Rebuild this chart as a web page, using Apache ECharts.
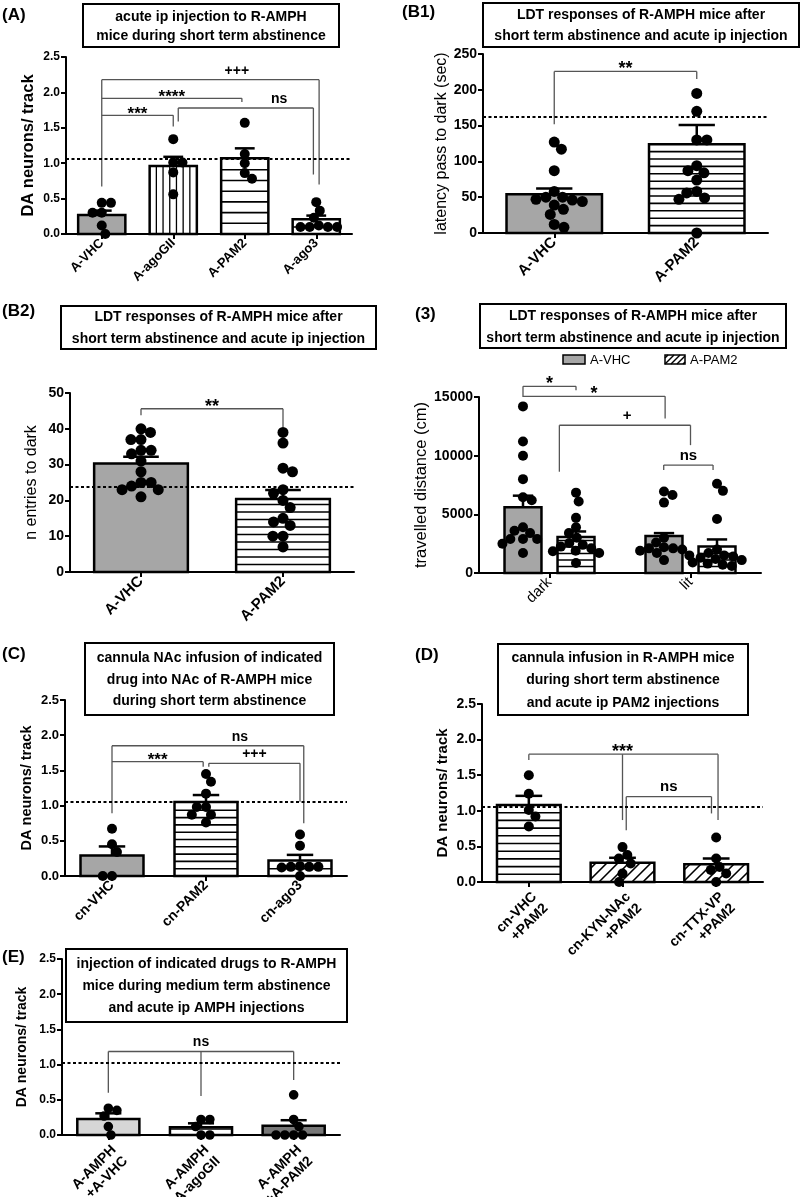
<!DOCTYPE html>
<html><head><meta charset="utf-8">
<script src="https://cdn.jsdelivr.net/npm/echarts@6/dist/echarts.min.js"></script>
<style>html,body{margin:0;padding:0;background:#fff}#c{width:803px;height:1197px}</style>
</head><body><div id="c"></div>
<script>
// ================= DATA =================
// (A)
const catA = ['A-VHC', 'A-agoGII', 'A-PAM2', 'A-ago3'];
const meanA = [0.27, 0.96, 1.07, 0.21];
const semA = [0.06, 0.13, 0.14, 0.05];
const ptsA = [[0.44, 0.44, 0.30, 0.30, 0.12, 0.0], [1.34, 1.01, 1.01, 0.87, 0.56], [1.57, 1.13, 1.00, 0.86, 0.78], [0.45, 0.33, 0.23, 0.12, 0.10, 0.10, 0.10, 0.10]];
const refA = 1.06;
const yTicksA = [0, 0.5, 1.0, 1.5, 2.0, 2.5];
const sigA = [
  { y: 2.18, legs: [[0, 0.67], [3.04, 0.70]], text: '+++', tx: 1.89 },
  { y: 1.916, legs: [[0, 1.916], [1.96, 1.864]], text: '****' },
  { y: 1.676, legs: [[0, 1.676], [1.0, 1.52]], text: '***' },
  { y: 1.78, legs: [[1.07, 1.59], [2.96, 0.84]], text: 'ns', tx: 2.48 }
];
// (B1)
const catB1 = ['A-VHC', 'A-PAM2'];
const meanB1 = [54, 124];
const semB1 = [8, 27];
const ptsB1 = [[127, 117, 87, 58, 50, 50, 47, 46, 44, 39, 33, 26, 12, 8], [195, 170, 130, 130, 94, 87, 84, 74, 58, 56, 49, 47, 0]];
const refB1 = 163;
const yTicksB1 = [0, 50, 100, 150, 200, 250];
const sigB1 = [{ y: 225.7, legs: [[0, 152], [1, 215]], text: '**' }];
// (B2)
const catB2 = ['A-VHC', 'A-PAM2'];
const meanB2 = [30.3, 20.4];
const semB2 = [1.9, 2.5];
const ptsB2 = [[40, 39, 37, 37, 34, 34, 33, 31, 28, 25, 25, 24, 23, 23, 21], [39, 36, 29, 28, 23, 22, 20, 18, 15, 14, 13, 10, 10, 7]];
const refB2 = 23.8;
const yTicksB2 = [0, 10, 20, 30, 40, 50];
const sigB2 = [{ y: 45.6, legs: [[0, 43.8], [1, 40.5]], text: '**' }];
// (3)
const cat3 = ['dark', 'lit'];
const groups3 = ['A-VHC', 'A-PAM2'];
const mean3VHC = [5600, 3150];
const sem3VHC = [990, 250];
const pts3VHC = [[14200, 11200, 10000, 8000, 6450, 6200, 3900, 3600, 3400, 2900, 2900, 2900, 2500, 1700], [6950, 6650, 6000, 3000, 2600, 2200, 2100, 2100, 2000, 1900, 1700, 1500, 1100]];
const mean3PAM2 = [3060, 2260];
const sem3PAM2 = [480, 600];
const pts3PAM2 = [[6850, 6100, 4700, 3900, 3400, 3000, 2550, 2400, 2250, 2100, 1900, 1850, 1700, 850], [7600, 7000, 4600, 2000, 1700, 1500, 1400, 1300, 1200, 1100, 900, 800, 700, 600]];
const yTicks3 = [0, 5000, 10000, 15000];
const sig3 = [
  { y: 15906, legs: [[-0.188, 15000], [0.188, 15566]], text: '*' },
  { y: 15057, legs: [[-0.188, 15057], [0.82, 13160]], text: '*' },
  { y: 12594, legs: [[0.07, 8632], [1.0, 10896]], text: '+', tx: 0.55 },
  { y: 9198, legs: [[0.81, 8774], [1.16, 8774]], text: 'ns' }
];
// (C)
const catC = ['cn-VHC', 'cn-PAM2', 'cn-ago3'];
const meanC = [0.29, 1.05, 0.22];
const semC = [0.13, 0.10, 0.08];
const ptsC = [[0.67, 0.45, 0.34, 0.0, 0.0], [1.45, 1.34, 1.17, 0.98, 0.98, 0.87, 0.87, 0.76], [0.59, 0.43, 0.14, 0.13, 0.13, 0.13, 0.12, 0.0]];
const refC = 1.046;
const yTicksC = [0, 0.5, 1.0, 1.5, 2.0, 2.5];
const sigC = [
  { y: 1.85, legs: [[0, 0.89], [2.04, 0.75]], text: 'ns', tx: 1.36 },
  { y: 1.624, legs: [[0, 1.624], [0.97, 1.553]], text: '***' },
  { y: 1.60, legs: [[1.03, 1.553], [2.0, 1.056]], text: '+++' }
];
// (D)
const catD = ['cn-VHC\n+PAM2', 'cn-KYN-NAc\n+PAM2', 'cn-TTX-VP\n+PAM2'];
const meanD = [1.08, 0.27, 0.25];
const semD = [0.13, 0.07, 0.08];
const ptsD = [[1.50, 1.24, 1.01, 0.92, 0.78], [0.49, 0.38, 0.33, 0.26, 0.12, 0.0], [0.625, 0.33, 0.21, 0.17, 0.12, 0.0]];
const refD = 1.048;
const yTicksD = [0, 0.5, 1.0, 1.5, 2.0, 2.5];
const sigD = [
  { y: 1.795, legs: [[0, 1.715], [1, 0.87], [2.02, 0.87]], text: '***', tx: 1 },
  { y: 1.198, legs: [[1.04, 0.728], [1.95, 0.963]], text: 'ns' }
];
// (E)
const catE = ['A-AMPH\n+A-VHC', 'A-AMPH\n+A-agoGII', 'A-AMPH\n+A-PAM2'];
const meanE = [0.228, 0.11, 0.13];
const semE = [0.08, 0.056, 0.08];
const ptsE = [[0.38, 0.35, 0.27, 0.12, 0.0], [0.22, 0.22, 0.12, 0.0, 0.0], [0.57, 0.22, 0.12, 0.0, 0.0, 0.0, 0.0]];
const refE = 1.034;
const yTicksE = [0, 0.5, 1.0, 1.5, 2.0, 2.5];
const sigE = [{ y: 1.186, legs: [[0, 0.60], [1, 0.555], [2, 0.78]], text: 'ns' }];

// titles & labels (text content)
const titleA = ['acute ip injection to R-AMPH', 'mice during short term abstinence'];
const titleB = ['LDT responses of R-AMPH mice after', 'short term abstinence and acute ip injection'];
const titleC = ['cannula NAc infusion of indicated', 'drug into NAc of R-AMPH mice', 'during short term abstinence'];
const titleD = ['cannula infusion in R-AMPH mice', 'during short term abstinence', 'and acute ip PAM2 injections'];
const titleE = ['injection of indicated drugs to R-AMPH', 'mice during medium term abstinence', 'and acute ip AMPH injections'];

// ================= STYLE / LAYOUT =================
const FONT = "'Liberation Sans', Arial, Helvetica, sans-serif";
const GRAY = '#a6a6a6';
const sGray = { fill: GRAY };
const sH = sp => ({ fill: '#fff', pat: 'h', sp: sp });
const sV = sp => ({ fill: '#fff', pat: 'v', sp: sp, lw: 1.3 });
const sD = sp => ({ fill: '#fff', pat: 'd', sp: sp });

function ln(x1, y1, x2, y2, w, c) {
  return { type: 'line', shape: { x1: x1, y1: y1, x2: x2, y2: y2 }, style: { stroke: c || '#000', lineWidth: w } };
}
function patternLines(st, x0, x1, yT, yB) {
  const out = [];
  const lw = st.lw || 1.6;
  if (st.pat === 'h') { for (let y = yB - st.sp; y > yT + 1.5; y -= st.sp) out.push(ln(x0, y, x1, y, lw)); }
  if (st.pat === 'v') { for (let x = x0 + st.sp; x < x1 - 1; x += st.sp) out.push(ln(x, yT, x, yB, lw)); }
  if (st.pat === 'd') {
    for (let c = x0 + yT + st.sp / 2; c < x1 + yB; c += st.sp) {
      const xa = Math.max(x0, c - yB), xb = Math.min(x1, c - yT);
      if (xb > xa) out.push(ln(xa, c - xa, xb, c - xb, lw));
    }
  }
  return out;
}
function swarm(ys, d) {
  const idx = ys.map((_, i) => i).sort((a, b) => ys[a] - ys[b]);
  const xs = new Array(ys.length); const placed = []; let flip = 1;
  idx.forEach(i => {
    const y = ys[i]; const iv = [];
    placed.forEach(p => { const dy = Math.abs(p.y - y); if (dy < d) { const w = Math.sqrt(d * d - dy * dy); iv.push([p.x - w, p.x + w]); } });
    const cands = [0]; iv.forEach(v => cands.push(v[0], v[1]));
    const ok = c => iv.every(v => c <= v[0] + 1e-6 || c >= v[1] - 1e-6);
    let best = null;
    cands.filter(ok).forEach(c => {
      if (best === null || Math.abs(c) < Math.abs(best) - 1e-6 || (Math.abs(Math.abs(c) - Math.abs(best)) < 1e-6 && c * flip > 0)) best = c;
    });
    if (best !== 0) flip = -flip;
    xs[i] = best; placed.push({ x: best, y: y });
  });
  return xs;
}
function barSeries(g, means, sems, pts, styles, o) {
  return {
    type: 'custom', name: o.name, xAxisIndex: g, yAxisIndex: g, silent: true, clip: false, z: 3,
    data: means.map((m, i) => [i, m]),
    renderItem: function (params, api) {
      const i = params.dataIndex;
      const band = api.size([1, 0])[0];
      const base = api.coord([i, 0]);
      const cx = base[0] + (o.offset || 0) * band;
      const w = o.barFrac * band;
      const x0 = cx - w / 2, x1 = cx + w / 2, yB = base[1];
      const yT = api.coord([i, means[i]])[1];
      const st = styles[i];
      const ch = [];
      ch.push({ type: 'rect', shape: { x: x0, y: yT, width: w, height: yB - yT }, style: { fill: st.fill } });
      patternLines(st, x0, x1, yT, yB).forEach(e => ch.push(e));
      ch.push({ type: 'rect', shape: { x: x0, y: yT, width: w, height: yB - yT }, style: { fill: 'none', stroke: '#000', lineWidth: 2.5 } });
      const yS = api.coord([i, means[i] + sems[i]])[1];
      const cap = w * (o.capFrac || 0.42);
      ch.push(ln(cx, yT, cx, yS, 2.5));
      ch.push(ln(cx - cap / 2, yS, cx + cap / 2, yS, 2.5));
      const r = o.r || 5;
      const ys = pts[i].map(v => api.coord([i, v])[1]);
      const xs = swarm(ys, 2 * r * 0.92);
      ys.forEach((y, k) => ch.push({ type: 'circle', shape: { cx: cx + xs[k], cy: y, r: r }, style: { fill: '#000' } }));
      return { type: 'group', children: ch };
    }
  };
}
function sigSeries(g, brs, fs) {
  return {
    type: 'custom', xAxisIndex: g, yAxisIndex: g, silent: true, clip: false, z: 4,
    data: brs.map(b => [0, b.y]),
    renderItem: function (params, api) {
      const b = brs[params.dataIndex];
      const band = api.size([1, 0])[0];
      const X = x => { const r = Math.round(x); return api.coord([r, 0])[0] + (x - r) * band; };
      const Y = v => api.coord([0, v])[1];
      const yh = Y(b.y);
      const xs = b.legs.map(l => X(l[0]));
      const xmin = Math.min.apply(null, xs), xmax = Math.max.apply(null, xs);
      const ch = [ln(xmin, yh, xmax, yh, 1.3, '#555')];
      b.legs.forEach((l, k) => ch.push(ln(xs[k], yh, xs[k], Y(l[1]), 1.3, '#555')));
      const tx = b.tx != null ? X(b.tx) : (xmin + xmax) / 2;
      const star = b.text.indexOf('*') >= 0;
      const size = star ? fs + 3 : fs;
      ch.push({
        type: 'text', x: tx, y: yh + (star ? 7 : -2),
        style: { text: b.text, font: 'bold ' + size + 'px ' + FONT, fill: '#000', textAlign: 'center', textVerticalAlign: 'bottom', align: 'center', verticalAlign: 'bottom' }
      });
      return { type: 'group', children: ch };
    }
  };
}
function refSeries(g, cats, val) {
  return {
    type: 'line', xAxisIndex: g, yAxisIndex: g, data: cats.map(() => null), silent: true, symbol: 'none', z: 2,
    markLine: { silent: true, symbol: ['none', 'none'], label: { show: false }, lineStyle: { color: '#000', width: 1.8, type: [3, 2.5] }, data: [{ yAxis: val }] }
  };
}

const grids = [
  { left: 66, top: 57, width: 286, height: 177 },
  { left: 483, top: 54, width: 285, height: 179 },
  { left: 70, top: 393, width: 284, height: 179 },
  { left: 479, top: 397, width: 282, height: 176 },
  { left: 65, top: 700, width: 282, height: 176 },
  { left: 482, top: 704, width: 281, height: 178 },
  { left: 62, top: 959, width: 278, height: 176 }
].map(g => Object.assign(g, { containLabel: false, outerBoundsMode: 'none' }));
const axisDefs = [
  { cats: catA, ticks: yTicksA, dec: 1, tfs: 12, xfs: 13, xb: 'bold', va: 'middle', name: 'DA neurons/ track', nfs: 16.5, nb: 'bold', gap: 29 },
  { cats: catB1, ticks: yTicksB1, dec: 0, tfs: 14, xfs: 15, xb: 'bold', va: 'middle', name: 'latency pass to dark (sec)', nfs: 16, nb: 'normal', gap: 27 },
  { cats: catB2, ticks: yTicksB2, dec: 0, tfs: 14, xfs: 15, xb: 'bold', va: 'middle', name: 'n entries to dark', nfs: 16, nb: 'normal', gap: 30 },
  { cats: cat3, ticks: yTicks3, dec: 0, tfs: 14, xfs: 15, xb: 'normal', va: 'middle', name: 'travelled distance (cm)', nfs: 16.5, nb: 'normal', gap: 45 },
  { cats: catC, ticks: yTicksC, dec: 1, tfs: 13, xfs: 14, xb: 'bold', va: 'middle', name: 'DA neurons/ track', nfs: 14.5, nb: 'bold', gap: 31 },
  { cats: catD, ticks: yTicksD, dec: 1, tfs: 14, xfs: 14, xb: 'bold', va: 'top', name: 'DA neurons/ track', nfs: 15, nb: 'bold', gap: 32 },
  { cats: catE, ticks: yTicksE, dec: 1, tfs: 12, xfs: 14, xb: 'bold', va: 'top', name: 'DA neurons/ track', nfs: 14, nb: 'bold', gap: 33 }
];
const xAxes = axisDefs.map((a, g) => ({
  gridIndex: g, type: 'category', data: a.cats,
  axisLine: { show: true, lineStyle: { color: '#000', width: 2 } },
  axisTick: { show: true, alignWithLabel: true, length: 5, lineStyle: { color: '#000', width: 2 } },
  axisLabel: { interval: 0, rotate: 45, margin: 7, color: '#000', fontSize: a.xfs, fontWeight: a.xb, fontFamily: FONT, lineHeight: a.xfs + 2, verticalAlign: a.va },
  splitLine: { show: false }
}));
const yAxes = axisDefs.map((a, g) => ({
  gridIndex: g, type: 'value', min: a.ticks[0], max: a.ticks[a.ticks.length - 1], interval: a.ticks[1] - a.ticks[0],
  axisLine: { show: true, lineStyle: { color: '#000', width: 2 } },
  axisTick: { show: true, length: 5, lineStyle: { color: '#000', width: 2 } },
  axisLabel: { margin: 6, color: '#000', fontSize: a.tfs, fontWeight: 'bold', fontFamily: FONT, formatter: v => v.toFixed(a.dec) },
  splitLine: { show: false },
  name: a.name, nameLocation: 'middle', nameGap: a.gap, nameRotate: 90,
  nameTextStyle: { color: '#000', fontSize: a.nfs, fontWeight: a.nb, fontFamily: FONT }
}));

const series = [
  refSeries(0, catA, refA),
  barSeries(0, meanA, semA, ptsA, [sGray, sV(6.7), sH(10.7), sH(7)], { barFrac: 0.66 }),
  sigSeries(0, sigA, 14),
  refSeries(1, catB1, refB1),
  barSeries(1, meanB1, semB1, ptsB1, [sGray, sH(7.4)], { barFrac: 0.67, r: 5.5, capFrac: 0.38 }),
  sigSeries(1, sigB1, 15),
  refSeries(2, catB2, refB2),
  barSeries(2, meanB2, semB2, ptsB2, [sGray, sH(7.5)], { barFrac: 0.66, r: 5.5, capFrac: 0.38 }),
  sigSeries(2, sigB2, 15),
  barSeries(3, mean3VHC, sem3VHC, pts3VHC, [sGray, sGray], { name: groups3[0], barFrac: 0.262, offset: -0.188, capFrac: 0.55 }),
  barSeries(3, mean3PAM2, sem3PAM2, pts3PAM2, [sH(6.5), sH(6.5)], { name: groups3[1], barFrac: 0.262, offset: 0.188, capFrac: 0.55 }),
  sigSeries(3, sig3, 15),
  refSeries(4, catC, refC),
  barSeries(4, meanC, semC, ptsC, [sGray, sH(7.3), sH(7.3)], { barFrac: 0.67 }),
  sigSeries(4, sigC, 14),
  refSeries(5, catD, refD),
  barSeries(5, meanD, semD, ptsD, [sH(7.7), sD(11), sD(11)], { barFrac: 0.68 }),
  sigSeries(5, sigD, 15),
  refSeries(6, catE, refE),
  barSeries(6, meanE, semE, ptsE, [{ fill: '#d6d6d6' }, sH(6), { fill: '#777' }], { barFrac: 0.67, r: 4.8 }),
  sigSeries(6, sigE, 14)
];

// title boxes and panel labels (layout)
const boxes = [
  { x: 83, y: 4, w: 256, h: 43, lines: titleA, lh: 19 },
  { x: 483, y: 3, w: 316, h: 44, lines: titleB, lh: 21 },
  { x: 61, y: 306, w: 315, h: 43, lines: titleB, lh: 22 },
  { x: 480, y: 304, w: 306, h: 44, lines: titleB, lh: 22 },
  { x: 85, y: 643, w: 249, h: 72, lines: titleC, lh: 21.5 },
  { x: 498, y: 644, w: 250, h: 71, lines: titleD, lh: 22.5 },
  { x: 66, y: 949, w: 281, h: 73, lines: titleE, lh: 22 }
];
const panelLabels = [['(A)', 2, 15], ['(B1)', 402, 12], ['(B2)', 2, 311], ['(3)', 415, 314], ['(C)', 2, 654], ['(D)', 415, 655], ['(E)', 2, 957]];
const graphic = [];
boxes.forEach(b => {
  graphic.push({ type: 'rect', shape: { x: b.x, y: b.y, width: b.w, height: b.h }, style: { fill: '#fff', stroke: '#000', lineWidth: 2 }, z: 10 });
  graphic.push({ type: 'text', x: b.x + b.w / 2, y: b.y + b.h / 2 + 1, z: 11,
    style: { text: b.lines.join('\n'), font: 'bold 14px ' + FONT, fill: '#000', lineHeight: b.lh, textAlign: 'center', textVerticalAlign: 'middle', align: 'center', verticalAlign: 'middle' } });
});
panelLabels.forEach(p => graphic.push({ type: 'text', x: p[1], y: p[2], z: 11,
  style: { text: p[0], font: 'bold 17px ' + FONT, fill: '#000', textAlign: 'left', textVerticalAlign: 'middle', align: 'left', verticalAlign: 'middle' } }));
// legend of panel (3)
graphic.push({ type: 'rect', shape: { x: 563, y: 355, width: 22, height: 9 }, style: { fill: GRAY, stroke: '#000', lineWidth: 1.5 }, z: 10 });
graphic.push({ type: 'text', x: 590, y: 360, z: 11, style: { text: groups3[0], font: '13px ' + FONT, fill: '#000', textAlign: 'left', textVerticalAlign: 'middle', align: 'left', verticalAlign: 'middle' } });
graphic.push({ type: 'rect', shape: { x: 665, y: 355, width: 20, height: 9 }, style: { fill: '#fff', stroke: '#000', lineWidth: 1.5 }, z: 10 });
patternLines({ pat: 'd', sp: 6, lw: 1.4 }, 665, 685, 355, 364).forEach(e => { e.z = 11; graphic.push(e); });
graphic.push({ type: 'text', x: 690, y: 360, z: 11, style: { text: groups3[1], font: '13px ' + FONT, fill: '#000', textAlign: 'left', textVerticalAlign: 'middle', align: 'left', verticalAlign: 'middle' } });

const chart = echarts.init(document.getElementById('c'), null, { renderer: 'canvas' });
chart.setOption({
  animation: false,
  backgroundColor: '#fff',
  textStyle: { fontFamily: FONT },
  grid: grids,
  xAxis: xAxes,
  yAxis: yAxes,
  series: series,
  graphic: graphic
});
</script></body></html>
